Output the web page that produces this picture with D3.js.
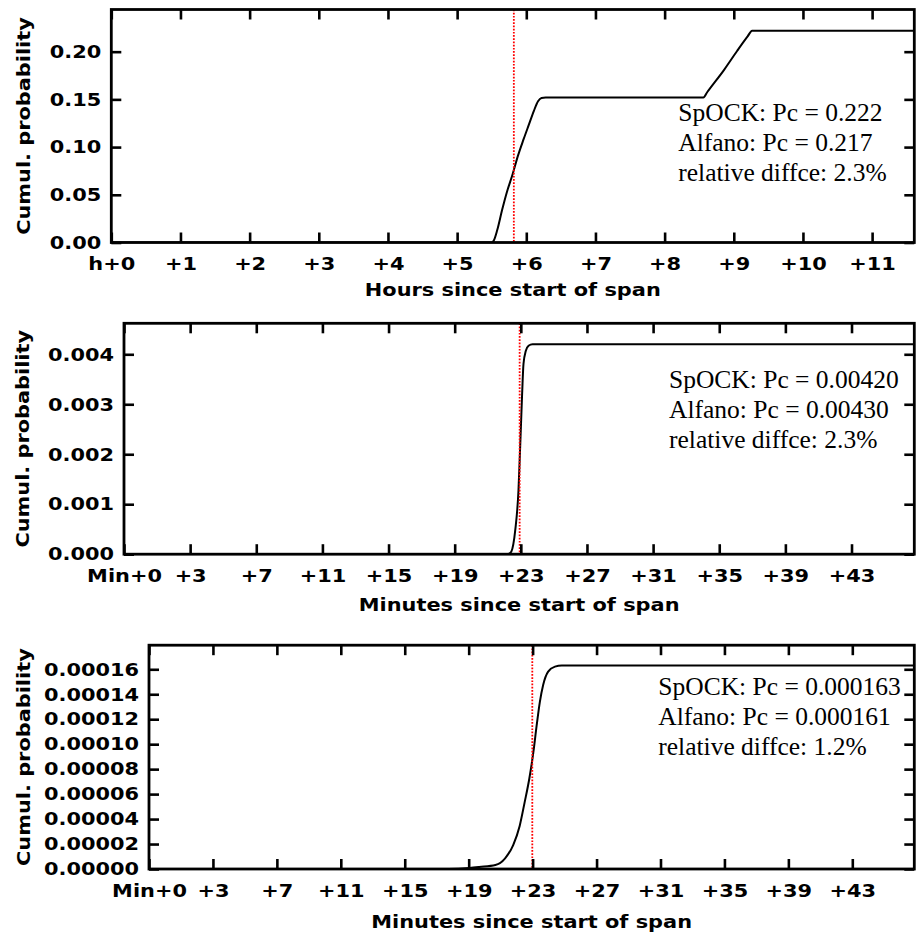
<!DOCTYPE html>
<html>
<head>
<meta charset="utf-8">
<script src="https://cdn.jsdelivr.net/npm/d3@7"></script>
<style>
  body { margin: 0; background: #fff; }
  svg { display: block; }
  .sans { font-family: "DejaVu Sans", sans-serif; font-weight: bold; font-size: 18px; }
  .note { font-family: "Liberation Serif", "Times New Roman", serif; font-size: 25.5px; }
</style>
</head>
<body>
<script>
// panel 1: hours
const hours1 = [0, 5.50, 5.53, 5.58, 5.65, 5.72, 5.80, 5.88, 5.96, 6.04, 6.11, 6.17, 6.22, 6.28, 8.56, 8.62, 8.86, 9.05, 9.20, 9.265, 11.61];
const prob1  = [0, 0, 0.002, 0.013, 0.034, 0.053, 0.071, 0.091, 0.108, 0.124, 0.138, 0.148, 0.1515, 0.152, 0.152, 0.158, 0.181, 0.201, 0.216, 0.222, 0.222];
const hourTicks = [0, 1, 2, 3, 4, 5, 6, 7, 8, 9, 10, 11];
const hourLabels = ["h+0", "+1", "+2", "+3", "+4", "+5", "+6", "+7", "+8", "+9", "+10", "+11"];
const probTicks1 = [0, 0.05, 0.10, 0.15, 0.20];
const tca1 = 5.82;
const note1 = ["SpOCK: Pc = 0.222", "Alfano: Pc = 0.217", "relative diffce: 2.3%"];

// panel 2: minutes
const minutes2 = [0, 22.90, 22.97, 23.13, 23.37, 23.56, 23.66, 23.77, 23.86, 24.00, 24.16, 24.40, 47.25];
const prob2    = [0, 0, 0.000005, 0.00005, 0.00049, 0.00128, 0.00214, 0.00314, 0.00381, 0.00407, 0.00417, 0.00420, 0.00420];
const probTicks2 = [0, 0.001, 0.002, 0.003, 0.004];
const tca2 = 23.63;
const note2 = ["SpOCK: Pc = 0.00420", "Alfano: Pc = 0.00430", "relative diffce: 2.3%"];

// panel 3: minutes
const minutes3 = [0, 18.5, 19.8, 20.4, 21.4, 22.0, 22.5, 22.9, 23.2, 23.5, 23.74, 23.95, 24.15, 24.35, 24.66, 25.08, 25.5, 47.25];
const prob3    = [0, 0, 0.0000008, 0.0000016, 0.0000032, 0.0000086, 0.0000192, 0.0000345, 0.0000530, 0.0000727, 0.000093, 0.0001150, 0.0001341, 0.0001474, 0.0001581, 0.0001621, 0.000163, 0.000163];
const probTicks3 = [0, 0.00002, 0.00004, 0.00006, 0.00008, 0.00010, 0.00012, 0.00014, 0.00016];
const tca3 = 23.68;
const note3 = ["SpOCK: Pc = 0.000163", "Alfano: Pc = 0.000161", "relative diffce: 1.2%"];

const minuteTicks = [0, 3.95, 7.9, 11.85, 15.8, 19.75, 23.7, 27.65, 31.6, 35.55, 39.5, 43.45];
const minuteLabels = ["Min+0", "+3", "+7", "+11", "+15", "+19", "+23", "+27", "+31", "+35", "+39", "+43"];

const W = 917, H = 934;
const sx = 1.16; // the sans labels in the original are wide

const panels = [
  {xs: hours1, ys: prob1, xmax: 11.61, pc: 0.222, xt: hourTicks, xl: hourLabels, yt: probTicks1, fmt: ".2f",
   tca: tca1, note: note1, xlabel: "Hours since start of span",
   left: 111.3, right: 914.3, top: 9.5, bottom: 242.5, noteX: 678.3, noteY: 120.7, ylabX: 29.5, xlabY: 296},
  {xs: minutes2, ys: prob2, xmax: 47.2, pc: 0.0042, xt: minuteTicks, xl: minuteLabels, yt: probTicks2, fmt: ".3f",
   tca: tca2, note: note2, xlabel: "Minutes since start of span",
   left: 124, right: 914.3, top: 323.3, bottom: 554.2, noteX: 669, noteY: 388.3, ylabX: 28.5, xlabY: 611},
  {xs: minutes3, ys: prob3, xmax: 47.28, pc: 0.000163, xt: minuteTicks, xl: minuteLabels, yt: probTicks3, fmt: ".5f",
   tca: tca3, note: note3, xlabel: "Minutes since start of span",
   left: 149, right: 914.3, top: 645.2, bottom: 869, noteX: 658.3, noteY: 695, ylabX: 30, xlabY: 928}
];

const svg = d3.select("body").append("svg")
    .attr("width", W)
    .attr("height", H);

panels.forEach((p, i) => {
    const x = d3.scaleLinear().domain([0, p.xmax]).range([p.left, p.right]);
    const y = d3.scaleLinear().domain([0, p.pc * 1.1]).range([p.bottom, p.top]);
    const data = p.xs.map((v, j) => [v, p.ys[j]]);

    const g = svg.append("g");

    g.append("clipPath").attr("id", "clip" + i)
        .append("rect")
        .attr("x", p.left).attr("y", p.top)
        .attr("width", p.right - p.left).attr("height", p.bottom - p.top);

    const line = d3.line()
        .x(d => x(d[0]))
        .y(d => y(d[1]))
        .curve(d3.curveMonotoneX);

    g.append("path")
        .datum(data)
        .attr("clip-path", `url(#clip${i})`)
        .attr("fill", "none")
        .attr("stroke", "#000")
        .attr("stroke-width", 2)
        .attr("d", line);

    g.append("line")
        .attr("x1", x(p.tca)).attr("x2", x(p.tca))
        .attr("y1", p.top).attr("y2", p.bottom)
        .attr("stroke", "#ff0000")
        .attr("stroke-width", 1.8)
        .attr("stroke-dasharray", "1.7,1.5");

    // axes, ticks pointing inwards on all four sides
    const bottom = g.append("g")
        .attr("class", "sans")
        .attr("transform", `translate(0,${p.bottom})`)
        .call(d3.axisBottom(x).tickValues(p.xt).tickFormat((d, k) => p.xl[k])
            .tickSizeInner(-10).tickSizeOuter(0).tickPadding(14.8));
    bottom.selectAll("text").attr("transform", `scale(${sx},1)`);

    g.append("g")
        .attr("transform", `translate(0,${p.top})`)
        .call(d3.axisTop(x).tickValues(p.xt).tickFormat("").tickSizeInner(-10).tickSizeOuter(0));

    const left = g.append("g")
        .attr("class", "sans")
        .attr("transform", `translate(${p.left},0)`)
        .call(d3.axisLeft(y).tickValues(p.yt).tickFormat(d3.format(p.fmt))
            .tickSizeInner(-10).tickSizeOuter(0).tickPadding(10));
    left.selectAll("text")
        .attr("x", -10 / sx)
        .attr("transform", `scale(${sx},1)`);

    g.append("g")
        .attr("transform", `translate(${p.right},0)`)
        .call(d3.axisRight(y).tickValues(p.yt).tickFormat("").tickSizeInner(-10).tickSizeOuter(0));

    g.selectAll(".domain").remove();
    g.selectAll(".tick line").attr("stroke", "#000").attr("stroke-width", 2.6);
    g.selectAll(".tick text").attr("fill", "#000").attr("font-size", 18).attr("font-family", "DejaVu Sans, sans-serif");

    g.append("rect")
        .attr("x", p.left).attr("y", p.top)
        .attr("width", p.right - p.left).attr("height", p.bottom - p.top)
        .attr("fill", "none")
        .attr("stroke", "#000")
        .attr("stroke-width", 2.8);

    g.append("text")
        .attr("class", "sans")
        .attr("text-anchor", "middle")
        .attr("transform", `translate(${(p.left + p.right) / 2},${p.xlabY}) scale(${sx},1)`)
        .text(p.xlabel);

    g.append("text")
        .attr("class", "sans")
        .attr("text-anchor", "middle")
        .attr("transform", `translate(${p.ylabX},${(p.top + p.bottom) / 2}) rotate(-90) scale(${sx},1)`)
        .text("Cumul. probability");

    g.append("g").selectAll("text")
        .data(p.note)
        .enter()
        .append("text")
        .attr("class", "note")
        .attr("x", p.noteX)
        .attr("y", (d, k) => p.noteY + k * 30)
        .text(d => d);
});
</script>
</body>
</html>
